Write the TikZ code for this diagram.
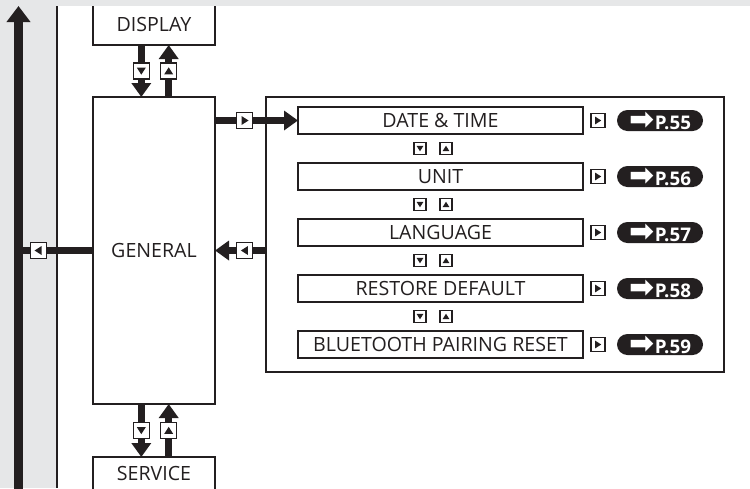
\documentclass[tikz,border=0pt]{standalone}
\usepackage{fontspec}
\setmainfont{Open Sans}
\newfontfamily\symfont{DejaVu Sans}
\usetikzlibrary{arrows.meta, positioning, calc, shapes.misc}
\definecolor{pagegrey}{HTML}{E6E7E8}
\definecolor{ink}{HTML}{231F20}

\begin{document}
\begin{tikzpicture}[
        x=0.5pt, y=-0.5pt,
        every node/.style={font=\fontsize{9.8}{11}\selectfont, text=ink, inner sep=0, outer sep=0},
        menubox/.style={rectangle, draw=ink, fill=white, line width=0.6pt, minimum width=61pt},
        itembox/.style={rectangle, draw=ink, fill=white, line width=0.6pt, minimum width=142.5pt, minimum height=13.5pt},
        key/.style={rectangle, draw=ink, fill=white, line width=0.6pt, minimum size=#1},
        keydown/.style={key=#1, path picture={\fill[ink, shift={(path picture bounding box.center)}]
            ({-0.28*#1},{0.21*#1}) -- ({0.28*#1},{0.21*#1}) -- (0pt,{-0.23*#1}) -- cycle;}},
        keyup/.style={key=#1, path picture={\fill[ink, shift={(path picture bounding box.center)}]
            ({-0.28*#1},{-0.21*#1}) -- ({0.28*#1},{-0.21*#1}) -- (0pt,{0.23*#1}) -- cycle;}},
        keyright/.style={key=#1, path picture={\fill[ink, shift={(path picture bounding box.center)}]
            ({-0.21*#1},{0.28*#1}) -- ({-0.21*#1},{-0.28*#1}) -- ({0.23*#1},0pt) -- cycle;}},
        keyleft/.style={key=#1, path picture={\fill[ink, shift={(path picture bounding box.center)}]
            ({0.21*#1},{0.28*#1}) -- ({0.21*#1},{-0.28*#1}) -- ({-0.23*#1},0pt) -- cycle;}},
        pageref/.style={rounded rectangle, fill=ink, minimum width=43pt, minimum height=10.5pt,
            text=white, font=\fontsize{9.4}{10}\selectfont\bfseries},
        link/.style={line width=3.7pt, draw=ink, -{Triangle[width=9.5pt, length=7pt]}},
        plainlink/.style={line width=3.7pt, draw=ink}
    ]
    \useasboundingbox (0,0) rectangle (750,488);
    % page background
    \fill[pagegrey] (0,0) rectangle (750,488);
    \fill[white] (57,6) rectangle (750,488);
    \draw[ink, line width=0.6pt] (57,6) -- (57,488);

    % back arrow on the left
    \coordinate (upfoot) at (18.5,495);
    \coordinate (uptip) at (18.5,6);
    \draw[line width=4.3pt, draw=ink, -{Triangle[width=11.5pt, length=8pt]}] (upfoot) -- (uptip);

    % menu column
    \node[menubox, minimum height=20.5pt] (display) at (154,24.5) {DISPLAY};
    \node[menubox, minimum height=153.5pt] (general) at (154,250.5) {GENERAL};
    \node[menubox, minimum height=16.5pt] (service) at (154,473.5) {SERVICE};

    % settings panel
    \node[rectangle, draw=ink, line width=0.6pt, minimum width=229pt, minimum height=137.5pt] (panel) at (495,234.5) {};
    \node[itembox] (datetime) at (440.5,120.5) {DATE \& TIME};
    \node[itembox, below=14.5pt of datetime] (unit) {UNIT};
    \node[itembox, below=14.5pt of unit] (language) {LANGUAGE};
    \node[itembox, below=14.5pt of language] (restore) {RESTORE DEFAULT};
    \node[itembox, below=14.5pt of restore] (btreset) {BLUETOOTH PAIRING RESET};

    \node[keydown=6pt] (dtdown) at ($(datetime.south)!0.5!(unit.north) + (-20.5,0)$) {};
    \node[keyup=6pt] (dtup) at ($(datetime.south)!0.5!(unit.north) + (5.5,0)$) {};
    \node[keydown=6pt] (undown) at ($(unit.south)!0.5!(language.north) + (-20.5,0)$) {};
    \node[keyup=6pt] (unup) at ($(unit.south)!0.5!(language.north) + (5.5,0)$) {};
    \node[keydown=6pt] (lgdown) at ($(language.south)!0.5!(restore.north) + (-20.5,0)$) {};
    \node[keyup=6pt] (lgup) at ($(language.south)!0.5!(restore.north) + (5.5,0)$) {};
    \node[keydown=6pt] (rsdown) at ($(restore.south)!0.5!(btreset.north) + (-20.5,0)$) {};
    \node[keyup=6pt] (rsup) at ($(restore.south)!0.5!(btreset.north) + (5.5,0)$) {};

    \node[keyright=7pt, right=4pt of datetime] (dtkey) {};
    \node[keyright=7pt, right=4pt of unit] (unkey) {};
    \node[keyright=7pt, right=4pt of language] (lgkey) {};
    \node[keyright=7pt, right=4pt of restore] (rskey) {};
    \node[keyright=7pt, right=4pt of btreset] (btkey) {};

    \node[pageref, right=6pt of dtkey] (dtpage) {{\fontsize{15}{15}\symfont ➡}\hspace{0.3pt}P.55};
    \node[pageref, right=6pt of unkey] (unpage) {{\fontsize{15}{15}\symfont ➡}\hspace{0.3pt}P.56};
    \node[pageref, right=6pt of lgkey] (lgpage) {{\fontsize{15}{15}\symfont ➡}\hspace{0.3pt}P.57};
    \node[pageref, right=6pt of rskey] (rspage) {{\fontsize{15}{15}\symfont ➡}\hspace{0.3pt}P.58};
    \node[pageref, right=6pt of btkey] (btpage) {{\fontsize{15}{15}\symfont ➡}\hspace{0.3pt}P.59};

    % connectors
    \draw[link] ([xshift=-6.35pt]display.south) -- node[keydown=8pt] (dispdown) {} ([xshift=-6.35pt]general.north);
    \draw[link] ([xshift=7.35pt]general.north) -- node[keyup=8pt] (dispup) {} ([xshift=7.35pt]display.south);
    \draw[link] ([xshift=-6.35pt]general.south) -- node[keydown=8pt] (servdown) {} ([xshift=-6.35pt]service.north);
    \draw[link] ([xshift=7.35pt]service.north) -- node[keyup=8pt] (servup) {} ([xshift=7.35pt]general.south);
    \draw[link] (general.east |- datetime.west) -- node[keyright=8pt, pos=0.36] (genright) {} (datetime.west);
    \draw[link] (panel.west |- general.east) -- node[keyleft=8pt, pos=0.42] (genback) {} (general.east);
    \draw[plainlink] (general.west) -- node[keyleft=8pt, pos=0.735] (genleft) {} (general.west -| upfoot);

    % top margin over the display box
    \fill[pagegrey] (57.3,0) rectangle (750,6);
\end{tikzpicture}
\end{document}
